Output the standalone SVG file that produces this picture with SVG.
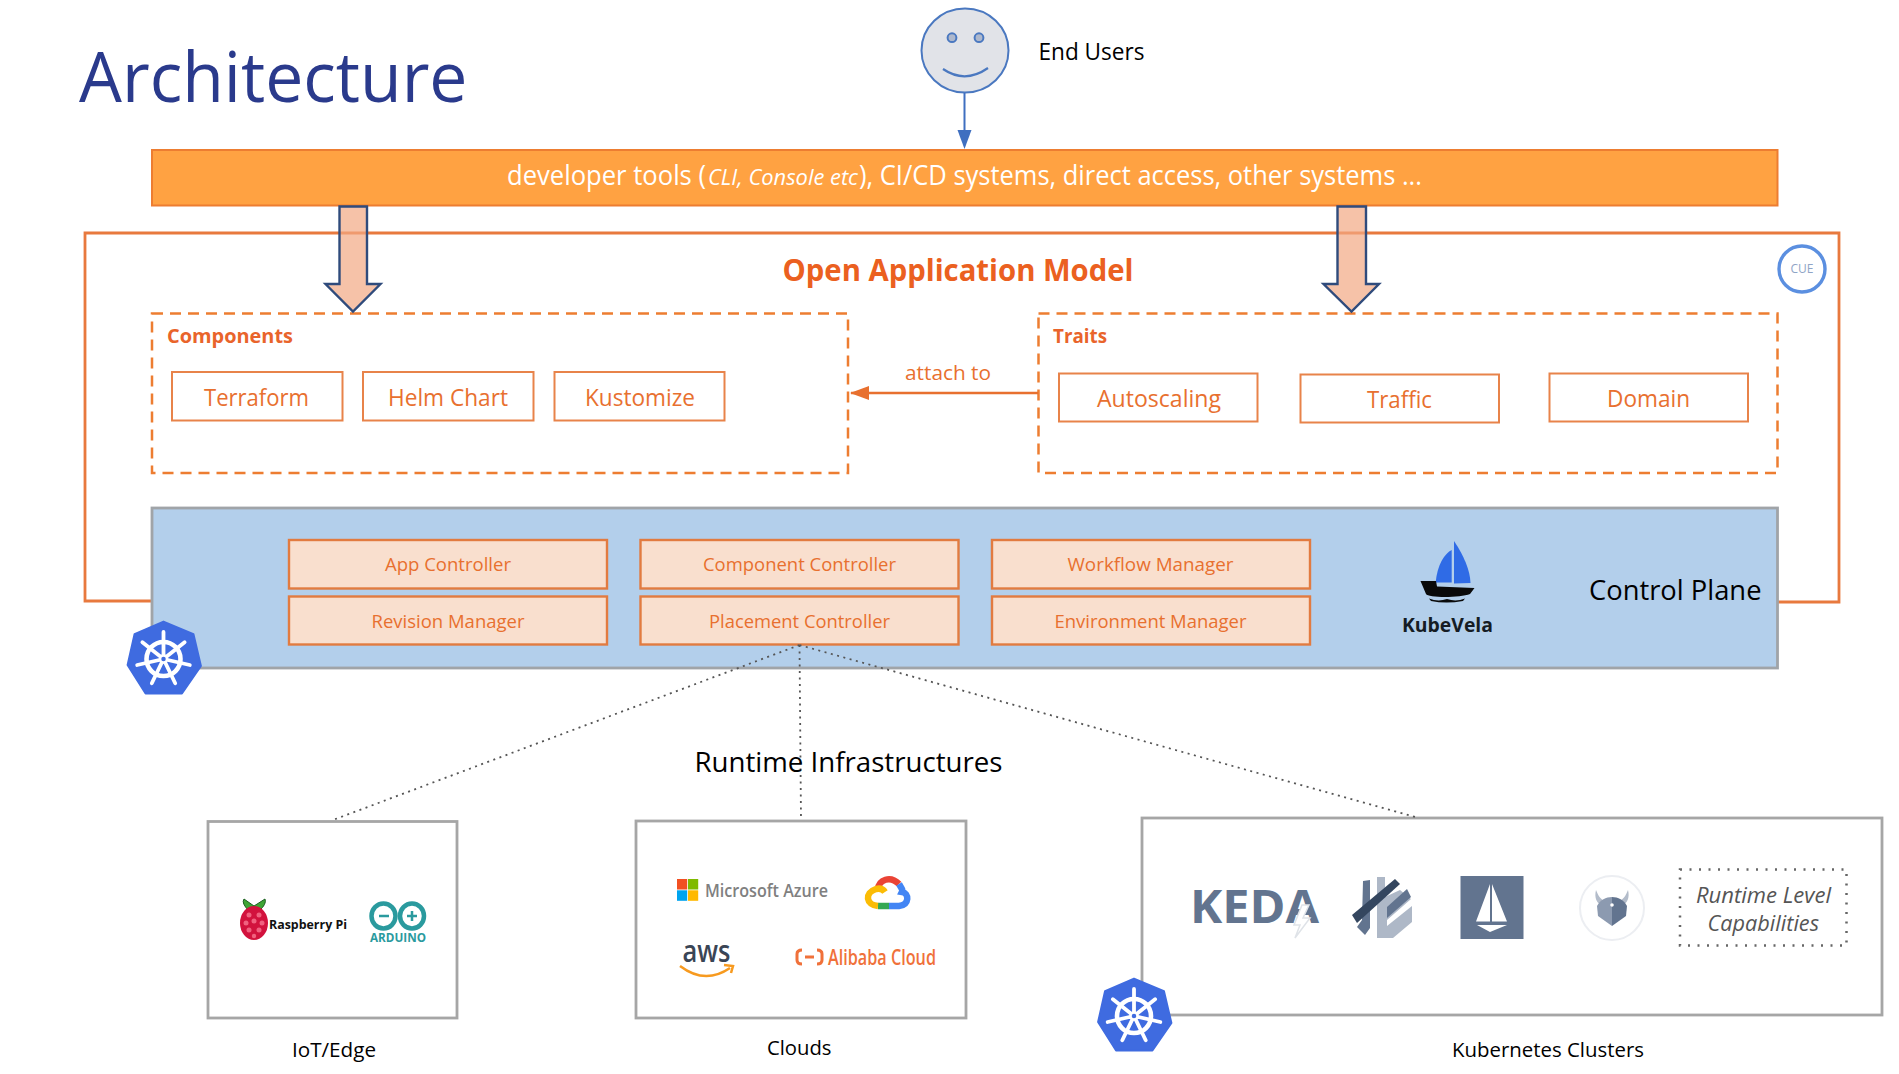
<svg xmlns="http://www.w3.org/2000/svg" width="1899" height="1074" viewBox="0 0 1899 1074">
<style>
text{font-family:"Open Sans","Liberation Sans",sans-serif}
.o{fill:#e8702f}
.box{fill:#fff;stroke:#e8834a;stroke-width:2}
.dash{fill:none;stroke:#ed7d31;stroke-width:2.5;stroke-dasharray:11 7}
.ctl{fill:#f9dfce;stroke:#e27b40;stroke-width:2.4}
.gray{fill:#fff;stroke:#a6a6a6;stroke-width:2.8}
.t24{font-size:24px}
.t18{font-size:18px}
.t21{font-size:20px;fill:#000}
.dot{fill:none;stroke:#555;stroke-width:1.8;stroke-dasharray:2 4.5}
.fat{fill:#f2a883;fill-opacity:.7;stroke:#2f4b7c;stroke-width:2.4}
.s{fill:#62748f}
.seed{fill:#f0617f}
</style>
<defs>
<marker id="ab" markerUnits="userSpaceOnUse" markerWidth="16" markerHeight="20" refX="8" refY="19" orient="auto-start-reverse" viewBox="0 0 16 20"><path d="M1 0H15L8 19Z" fill="#3f6fc0"/></marker>
<marker id="ao" markerUnits="userSpaceOnUse" markerWidth="20" markerHeight="16" refX="18" refY="8" orient="auto"><path d="M0 1L19 8L0 15Z" fill="#e8702f"/></marker>
<g id="k8s">
<path d="M0-37.500L30-25L37.500 7L18.500 34.500L-18 34.500L-36 6L-29-25Z" fill="#3f6be0" stroke="#3f6be0" stroke-width="1.800" stroke-linejoin="round"/>
<circle r="17" fill="none" stroke="#fff" stroke-width="4.600"/>
<path d="M0 0L0-27M0 0L21.100-16.800M0 0L26.300 6M0 0L11.700 24.300M0 0L-11.700 24.300M0 0L-26.300 6M0 0L-21.100-16.800" stroke="#fff" stroke-width="3.800" stroke-linecap="round"/>
<circle r="3.500" fill="#3f6be0" stroke="#fff" stroke-width="2.500"/>
</g>
</defs>
<rect width="1899" height="1074" fill="#fff"/>
<g id="title"><text x="79" y="102" font-size="70" fill="#2a3a8c" textLength="388.500" lengthAdjust="spacingAndGlyphs">Architecture</text></g>
<g id="oam">
<path d="M152 601H85V233H1839V602H1778" fill="none" stroke="#e8793e" stroke-width="2.800"/>
<text x="782.500" y="281" font-size="30" font-weight="700" fill="#eb6020" textLength="351" lengthAdjust="spacingAndGlyphs">Open Application Model</text>
</g>
<g id="cue">
<circle cx="1802" cy="269" r="23" fill="#fff" stroke="#5b8fe0" stroke-width="3.400"/>
<text x="1802" y="273" font-size="13" fill="#8fa4c6" text-anchor="middle" textLength="23" lengthAdjust="spacingAndGlyphs">CUE</text>
</g>
<g id="end-users">
<ellipse cx="965" cy="50.500" rx="43.500" ry="42" fill="#e1e3e8" stroke="#4a78c0" stroke-width="2"/>
<circle cx="952" cy="37.700" r="4.400" fill="#aeb8cc" stroke="#4a78c0" stroke-width="2"/>
<circle cx="979" cy="37.700" r="4.400" fill="#aeb8cc" stroke="#4a78c0" stroke-width="2"/>
<path d="M943 69Q965 84 988 68" fill="none" stroke="#4a78c0" stroke-width="2.200"/>
<text x="1038.500" y="60" font-size="23" fill="#000" textLength="106" lengthAdjust="spacingAndGlyphs">End Users</text>
</g>
<g id="tools">
<rect x="152" y="150" width="1625.500" height="55.500" fill="#ffa242" stroke="#ed7d31" stroke-width="2"/>
<text y="185" font-size="27" fill="#fff"><tspan x="507" textLength="199" lengthAdjust="spacingAndGlyphs">developer tools (</tspan><tspan x="708" y="185" font-size="21" font-style="italic" textLength="150" lengthAdjust="spacingAndGlyphs">CLI, Console etc</tspan><tspan x="859" y="185" textLength="563" lengthAdjust="spacingAndGlyphs">), CI/CD systems, direct access, other systems ...</tspan></text>
</g>
<g id="components">
<rect class="dash" x="152" y="313.500" width="696" height="159.500"/>
<text x="167" y="343" font-size="20" font-weight="700" fill="#e9642b" textLength="126" lengthAdjust="spacingAndGlyphs">Components</text>
<g id="terraform"><rect class="box" x="172" y="372" width="170.500" height="48.500"/><text class="o t24" x="204" y="405.500" textLength="105" lengthAdjust="spacingAndGlyphs">Terraform</text></g>
<g id="helm"><rect class="box" x="363" y="372" width="170.500" height="48.500"/><text class="o t24" x="388" y="405.500" textLength="120" lengthAdjust="spacingAndGlyphs">Helm Chart</text></g>
<g id="kustomize"><rect class="box" x="554.500" y="372" width="170" height="48.500"/><text class="o t24" x="585" y="405.500" textLength="110" lengthAdjust="spacingAndGlyphs">Kustomize</text></g>
</g>
<g id="traits">
<rect class="dash" x="1038.500" y="313.500" width="739" height="159.500"/>
<text x="1053" y="343" font-size="20" font-weight="700" fill="#e9642b" textLength="54" lengthAdjust="spacingAndGlyphs">Traits</text>
<g id="autoscaling"><rect class="box" x="1059" y="373.500" width="198.500" height="48"/><text class="o t24" x="1097" y="407" textLength="124" lengthAdjust="spacingAndGlyphs">Autoscaling</text></g>
<g id="traffic"><rect class="box" x="1300.500" y="374.500" width="198.500" height="48"/><text class="o t24" x="1367" y="408" textLength="65" lengthAdjust="spacingAndGlyphs">Traffic</text></g>
<g id="domain"><rect class="box" x="1549.500" y="373.500" width="198.500" height="48"/><text class="o t24" x="1607" y="407" textLength="83" lengthAdjust="spacingAndGlyphs">Domain</text></g>
</g>
<g id="control-plane">
<rect x="152" y="508" width="1625.500" height="160" fill="#b3cfeb" stroke="#a0a4a8" stroke-width="2.800"/>
<text x="1589" y="600" font-size="28" fill="#000" textLength="172.500" lengthAdjust="spacingAndGlyphs">Control Plane</text>
<g id="app-controller"><rect class="ctl" x="289" y="540" width="318" height="48.500"/><text class="o t18" x="448" y="571" text-anchor="middle" textLength="126" lengthAdjust="spacingAndGlyphs">App Controller</text></g>
<g id="component-controller"><rect class="ctl" x="640.500" y="540" width="318" height="48.500"/><text class="o t18" x="799.500" y="571" text-anchor="middle" textLength="193" lengthAdjust="spacingAndGlyphs">Component Controller</text></g>
<g id="workflow-manager"><rect class="ctl" x="992" y="540" width="318" height="48.500"/><text class="o t18" x="1150.500" y="571" text-anchor="middle" textLength="166" lengthAdjust="spacingAndGlyphs">Workflow Manager</text></g>
<g id="revision-manager"><rect class="ctl" x="289" y="596.500" width="318" height="48"/><text class="o t18" x="448" y="628" text-anchor="middle" textLength="153" lengthAdjust="spacingAndGlyphs">Revision Manager</text></g>
<g id="placement-controller"><rect class="ctl" x="640.500" y="596.500" width="318" height="48"/><text class="o t18" x="799.500" y="628" text-anchor="middle" textLength="181" lengthAdjust="spacingAndGlyphs">Placement Controller</text></g>
<g id="environment-manager"><rect class="ctl" x="992" y="596.500" width="318" height="48"/><text class="o t18" x="1150.500" y="628" text-anchor="middle" textLength="192" lengthAdjust="spacingAndGlyphs">Environment Manager</text></g>
<g id="kubevela">
<path d="M1435.700 582.500C1437 565 1445 553 1451.700 550V582.500Z" fill="#2f6be6"/>
<path d="M1454 541C1464 556 1470 570 1470.500 583L1454 583.500Z" fill="#2f6be6"/>
<path d="M1420.500 581H1436L1437 586.500L1474.500 588L1470 594C1460 598 1428 598 1426 594Z" fill="#0a0a0a"/>
<path d="M1429 598.500Q1438 602 1447 599Q1456 602 1465 598.500L1463 601Q1446 604 1431 601Z" fill="#0a0a0a"/>
<text x="1402" y="632" font-size="20" font-weight="700" fill="#151c24" textLength="91" lengthAdjust="spacingAndGlyphs">KubeVela</text>
</g>
</g>
<g id="k8s-control"><use href="#k8s" x="163.500" y="659"/></g>
<g id="iot-edge">
<rect class="gray" x="208" y="821.500" width="249" height="196.500"/>
<path d="M254 906L244 899Q241 903 249 911ZM254 906L265 899Q267 904 259 911Z" fill="#3fa535" stroke="#1b5e20" stroke-width="1"/>
<ellipse cx="254" cy="923" rx="14" ry="17" fill="#d2123d"/>
<g class="seed"><circle cx="249" cy="915" r="2.500"/><circle cx="259" cy="915" r="2.500"/><circle cx="254" cy="921" r="2.500"/><circle cx="246" cy="923" r="2.500"/><circle cx="262" cy="923" r="2.500"/><circle cx="249" cy="930" r="2.500"/><circle cx="259" cy="930" r="2.500"/><circle cx="254" cy="936" r="2.200"/></g>
<text x="269" y="929" font-size="13" font-weight="700" fill="#111" textLength="78" lengthAdjust="spacingAndGlyphs">Raspberry Pi</text>
<g fill="none" stroke="#2a9a9e" stroke-width="4.500"><ellipse cx="383.500" cy="916" rx="12" ry="12.500"/><ellipse cx="412" cy="916" rx="12" ry="12.500"/></g>
<path d="M379 916H389M407 916H417M412 911V921" stroke="#2a9a9e" stroke-width="2.500"/>
<text x="370" y="942" font-size="13" font-weight="700" fill="#2a9a9e" textLength="56" lengthAdjust="spacingAndGlyphs">ARDUINO</text>
<text class="t21" x="292" y="1057" textLength="84" lengthAdjust="spacingAndGlyphs">IoT/Edge</text>
</g>
<g id="clouds">
<rect class="gray" x="636" y="821" width="330" height="197"/>
<rect x="677" y="879" width="10.200" height="10.500" fill="#f25022"/><rect x="688" y="879" width="10.200" height="10.500" fill="#7fba00"/><rect x="677" y="890.300" width="10.200" height="10.500" fill="#00a4ef"/><rect x="688" y="890.300" width="10.200" height="10.500" fill="#ffb900"/>
<text x="705" y="897" font-size="18" font-weight="600" fill="#808080" textLength="123" lengthAdjust="spacingAndGlyphs">Microsoft Azure</text>
<g fill="none" stroke-width="6.500">
<path d="M878 889C879 880 890 875 899 884" stroke="#ea4335"/>
<path d="M899 884C902 889 903 890 902 892C909 893 910 905 899 906H889" stroke="#4285f4"/>
<path d="M889 906H878" stroke="#34a853"/>
<path d="M878 906C866 905 864 893 876 889C880 888 883 889 885 892" stroke="#fbbc05"/>
</g>
<text x="682.500" y="962" font-size="31" font-weight="600" fill="#3a4555" textLength="48" lengthAdjust="spacingAndGlyphs">aws</text>
<path d="M680 966Q705 985 730 968M724 965L733 966L731 973" fill="none" stroke="#f79a1f" stroke-width="2.500"/>
<path d="M802 950Q797 950 797 954V960Q797 964 802 964M817 950Q822 950 822 954V960Q822 964 817 964M805 957H814" fill="none" stroke="#f0713a" stroke-width="3"/>
<text x="828" y="965" font-size="21" font-weight="600" fill="#f0713a" textLength="108" lengthAdjust="spacingAndGlyphs">Alibaba Cloud</text>
<text class="t21" x="767" y="1055" textLength="64.500" lengthAdjust="spacingAndGlyphs">Clouds</text>
</g>
<g id="kubernetes-clusters">
<rect class="gray" x="1142" y="818" width="740" height="197"/>
<text x="1190" y="922.500" font-size="47" font-weight="700" fill="#62748f" textLength="129" lengthAdjust="spacingAndGlyphs">KEDA</text>
<path d="M1302 905L1294 925H1300L1295 938L1310 918H1303L1309 905Z" fill="#fff" stroke="#dfe3e8" stroke-width="1.500"/>
<g id="logo-hex">
<path class="s" d="M1363 881L1370 880V928L1365 935L1357 927L1362 920Z"/>
<path d="M1377 877H1385V897L1400 890L1411 899L1387 920V926L1412 906V922L1393 938H1377Z" fill="#aeb8c7"/>
<path class="s" d="M1387 907L1407 889L1411 897L1387 918Z"/>
<path d="M1352 915L1395 879L1400 884L1357 923Z" fill="#34465f"/>
</g>
<g id="logo-sail">
<rect class="s" x="1460.500" y="876" width="63" height="63"/>
<path d="M1490 884V921.500H1476ZM1492 884L1507 921.500H1492ZM1477 925H1507L1490 932Z" fill="#fff"/>
</g>
<g id="logo-shield">
<circle cx="1612" cy="908" r="32" fill="#fff" stroke="#eceef2" stroke-width="2"/>
<path d="M1596 890C1594 898 1597 903 1601 905L1605 901C1600 899 1598 895 1596 890ZM1628 890C1630 898 1627 903 1623 905L1619 901C1624 899 1626 895 1628 890Z" fill="#b3bcca"/>
<path d="M1612 897C1606 897 1600 900 1597 906L1598 916L1612 926Z" fill="#8c9ab0"/>
<path d="M1612 897C1618 897 1624 900 1627 906L1626 916L1612 926Z" fill="#62748f"/>
<circle cx="1612" cy="905" r="1.800" fill="#fff"/>
</g>
<g id="runtime-level">
<rect x="1680" y="869.500" width="166.500" height="76" fill="none" stroke="#666" stroke-width="2.500" stroke-dasharray="2 7.500"/>
<text x="1696" y="902.500" font-size="21" font-style="italic" fill="#555" textLength="135" lengthAdjust="spacingAndGlyphs">Runtime Level</text>
<text x="1707.500" y="931" font-size="21" font-style="italic" fill="#555" textLength="111.500" lengthAdjust="spacingAndGlyphs">Capabilities</text>
</g>
<text class="t21" x="1452" y="1057" textLength="192" lengthAdjust="spacingAndGlyphs">Kubernetes Clusters</text>
</g>
<g id="k8s-clusters-icon"><use href="#k8s" x="1134" y="1016"/></g>
<g id="connectors">
<path d="M964.500 93V130" stroke="#3f6fc0" stroke-width="2" fill="none"/>
<path d="M957.500 130H971.500L964.500 149Z" fill="#3f6fc0"/>
<path class="fat" d="M339.500 206.500H367V284H380.500L353 311.500L325.500 284H339.500Z"/>
<path class="fat" d="M1337.500 206.500H1366V284H1379L1351.500 311.500L1323.500 284H1337.500Z"/>
<line x1="1038" y1="393" x2="851" y2="393" stroke="#e8702f" stroke-width="2.500" marker-end="url(#ao)"/>
<text class="o" x="905" y="380" font-size="20" textLength="86" lengthAdjust="spacingAndGlyphs">attach to</text>
<path class="dot" d="M799.500 645L333 820"/>
<path class="dot" d="M799.500 645L801 820"/>
<path class="dot" d="M799.500 645L1415 817"/>
</g>
<g id="runtime-label"><text x="694.500" y="772" font-size="28" fill="#000" textLength="308" lengthAdjust="spacingAndGlyphs">Runtime Infrastructures</text></g>
</svg>
